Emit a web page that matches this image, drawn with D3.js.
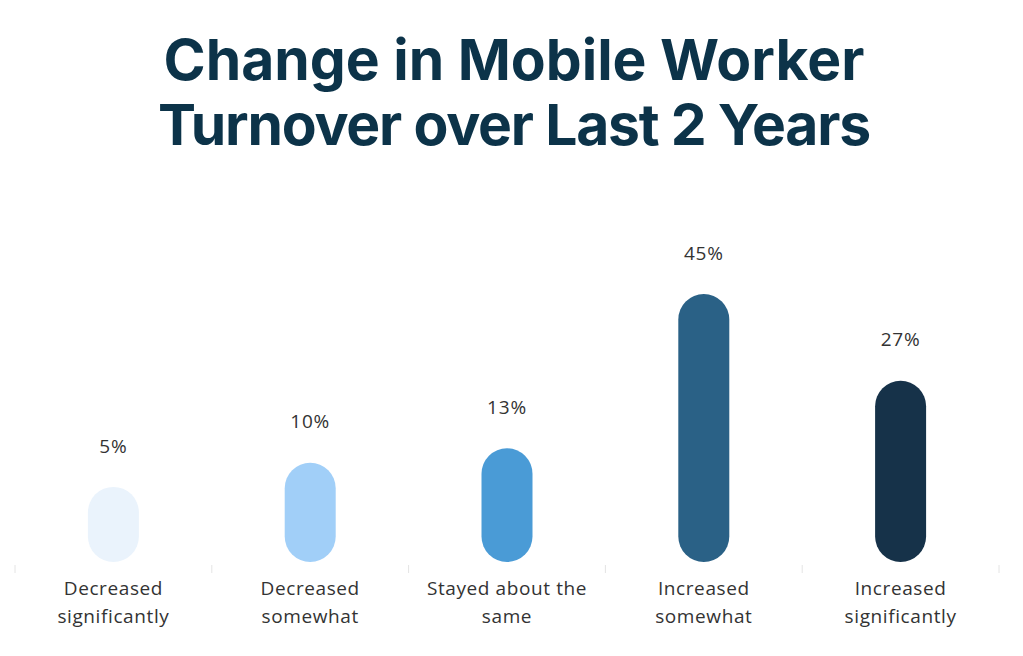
<!DOCTYPE html>
<html>
<head>
<meta charset="utf-8">
<script src="https://cdn.jsdelivr.net/npm/d3@7"></script>
<style>
   html, body { margin: 0; padding: 0; background: #fff; }
   svg { display: block; }
</style>
</head>
<body>
<div id="chart"></div>
<script>
// chart data
var categories = [
   ["Decreased", "significantly"],
   ["Decreased", "somewhat"],
   ["Stayed about the", "same"],
   ["Increased", "somewhat"],
   ["Increased", "significantly"]
];
var values = [5, 10, 13, 45, 27];
var barColors = ["#eaf3fc", "#a1cff8", "#4a9bd6", "#2a6186", "#163249"];
var titleLines = ["Change in Mobile Worker", "Turnover over Last 2 Years"];

var width = 1023, height = 656;
var barW = 51, r = barW / 2;
var baseline = 562;

var svg = d3.select("#chart").append("svg")
   .attr("width", width)
   .attr("height", height);

// title
svg.append("g").selectAll("text")
   .data(titleLines)
   .enter().append("text")
   .attr("x", 514)
   .attr("y", function(d, i) { return 80 + i * 65; })
   .attr("text-anchor", "middle")
   .attr("font-family", "Inter, sans-serif")
   .attr("font-weight", 700)
   .attr("font-size", 57)
   .attr("letter-spacing", function(d, i) { return i === 0 ? 0 : -1.2; })
   .attr("fill", "#0c3349")
   .text(function(d) { return d; });

var x = d3.scaleBand()
   .domain(d3.range(values.length))
   .range([15, 999])
   .padding(0);

// pill is a round-capped segment: the value scale runs between the cap centres
var y = d3.scaleLinear()
   .domain([0, 45])
   .range([baseline - r, baseline - r - 217]);

// faint separators along the baseline
svg.append("g").selectAll("line")
   .data(d3.range(values.length + 1))
   .enter().append("line")
   .attr("x1", function(d) { return d < values.length ? x(d) : x.range()[1]; })
   .attr("x2", function(d) { return d < values.length ? x(d) : x.range()[1]; })
   .attr("y1", baseline + 3)
   .attr("y2", baseline + 11)
   .attr("stroke", "#e4e4e4")
   .attr("stroke-width", 1);

var cx = function(i) { return x(i) + x.bandwidth() / 2; };

svg.append("g").selectAll("rect")
   .data(values)
   .enter().append("rect")
   .attr("x", function(d, i) { return cx(i) - r; })
   .attr("y", function(d) { return y(d) - r; })
   .attr("width", barW)
   .attr("height", function(d) { return y(0) - y(d) + barW; })
   .attr("rx", r)
   .attr("ry", r)
   .attr("fill", function(d, i) { return barColors[i]; });

// value labels
svg.append("g").selectAll("text")
   .data(values)
   .enter().append("text")
   .attr("x", function(d, i) { return cx(i); })
   .attr("y", function(d) { return y(d) - r - 41; })
   .attr("dy", "0.35em")
   .attr("text-anchor", "middle")
   .attr("font-family", "'Open Sans', sans-serif")
   .attr("font-size", 19)
   .attr("letter-spacing", 0.8)
   .attr("fill", "#333")
   .text(function(d) { return d + "%"; });

// category labels (two lines each)
var cat = svg.append("g").selectAll("text")
   .data(categories)
   .enter().append("text")
   .attr("text-anchor", "middle")
   .attr("font-family", "'Open Sans', sans-serif")
   .attr("font-size", 19)
   .attr("letter-spacing", 0.6)
   .attr("fill", "#333");

cat.selectAll("tspan")
   .data(function(d, i) { return d.map(function(t) { return { t: t, i: i }; }); })
   .enter().append("tspan")
   .attr("x", function(d) { return cx(d.i); })
   .attr("y", function(d, j) { return 588 + j * 28.5; })
   .attr("dy", "0.35em")
   .text(function(d) { return d.t; });
</script>
</body>
</html>
